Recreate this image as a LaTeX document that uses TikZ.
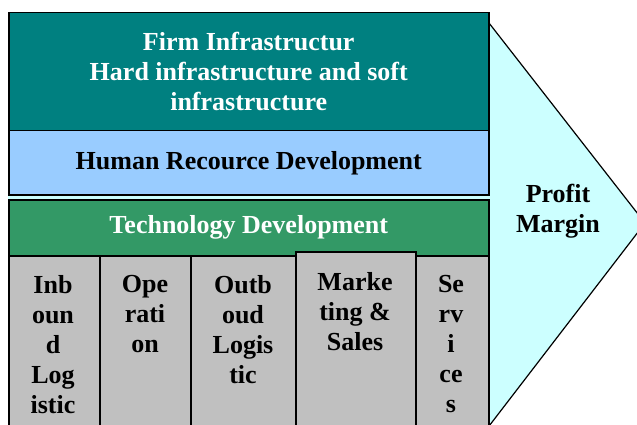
\documentclass[tikz,border=0pt]{standalone}
\usepackage{fontspec}
\setmainfont{Liberation Serif}
\definecolor{firmteal}{HTML}{008080}
\definecolor{hrblue}{HTML}{99CCFF}
\definecolor{techgreen}{HTML}{339966}
\definecolor{actgrey}{HTML}{C0C0C0}
\definecolor{margincyan}{HTML}{CCFFFF}

\begin{document}
\begin{tikzpicture}[x=1pt,y=-1pt,
  box/.style={draw, line width=1.5pt, inner sep=0pt, anchor=north west},
  txt/.style={font=\fontsize{26}{30}\selectfont\bfseries, align=center, inner sep=0pt}]
  \useasboundingbox (0,0) rectangle (637,425);

  % Profit margin arrow behind the chain
  \draw[line width=1.2pt, fill=margincyan] (470,23) -- (489,23) -- (645,223) -- (486,430) -- (470,430) -- cycle;
  \node[txt] (margin) at (558,211) {Profit\\Margin};

  % Support activities
  \fill[margincyan] (8,194) rectangle (488,199);
  \node[box, fill=firmteal, minimum width=480pt, minimum height=118pt] (firm) at (8,12) {};
  \node[txt, text=white] (firmt) at (firm.center) {Firm Infrastructur\\Hard infrastructure and soft\\infrastructure};
  \node[box, fill=hrblue, minimum width=480pt, minimum height=64pt] (hr) at (8,130) {};
  \node[txt] (hrt) at (hr.center) {Human Recource Development};
  \node[box, fill=techgreen, minimum width=480pt, minimum height=56pt] (tech) at (8,199) {};
  \node[txt, text=white] (techt) at (tech.center) {Technology Development};

  % Primary activities
  \node[box, fill=actgrey, minimum width=91pt, minimum height=175pt] (inb) at (8,255) {};
  \node[box, fill=actgrey, minimum width=91pt, minimum height=175pt] (op) at (99,255) {};
  \node[box, fill=actgrey, minimum width=105pt, minimum height=175pt] (outb) at (190,255) {};
  \node[box, fill=actgrey, minimum width=73pt, minimum height=175pt] (serv) at (415,255) {};
  \node[box, fill=actgrey, minimum width=120pt, minimum height=179pt] (mkt) at (295,251) {};

  \node[txt, anchor=north] (inbt) at (53,275) {Inb\\oun\\d\\Log\\istic};
  \node[txt, anchor=north] (opt) at (145,275) {Ope\\rati\\on};
  \node[txt, anchor=north] (outbt) at (243,275) {Outb\\oud\\Logis\\tic};
  \node[txt, anchor=north] (mktt) at (355,272) {Marke\\ting \&\\Sales};
  \node[txt, anchor=north] (servt) at (451,275) {Se\\rv\\i\\ce\\s};
\end{tikzpicture}
\end{document}
